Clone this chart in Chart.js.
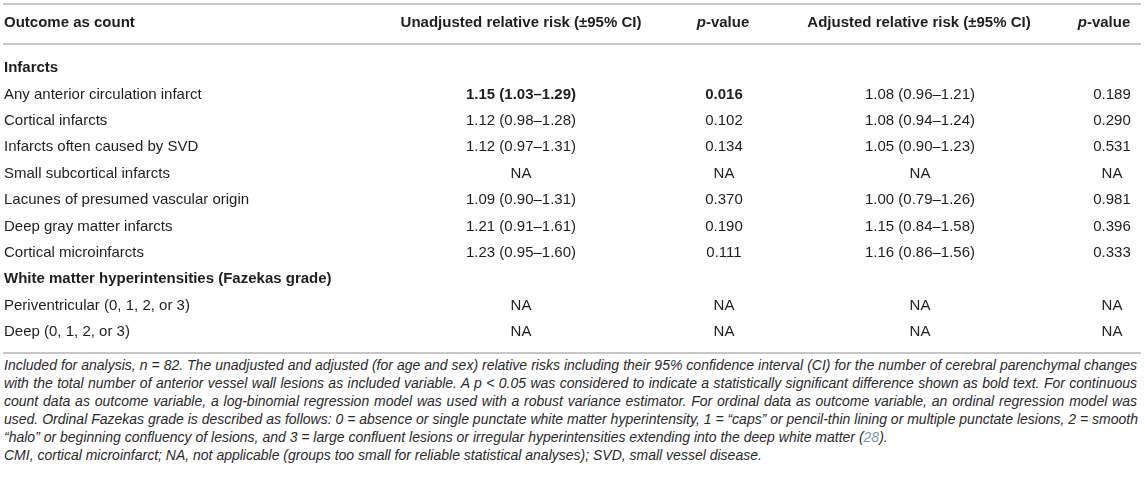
<!DOCTYPE html>
<html>
<head>
<meta charset="utf-8">
<script src="https://cdn.jsdelivr.net/npm/chart.js@4.4.1/dist/chart.umd.min.js"></script>
<style>
    html, body { margin: 0; padding: 0; background: #fff; }
    #wrap { position: relative; width: 1145px; height: 356px; }
    #note {
        font-family: "Liberation Sans", Arial, Helvetica, sans-serif;
        font-style: italic;
        font-size: 14px;
        line-height: 18px;
        color: #2a2a2a;
        width: 1133px;
        margin: 0 0 0 4px;
    }
    #note div { white-space: nowrap; }
    #note .j { text-align: justify; text-align-last: justify; }
    #note .ref { color: #7f95ad; }
</style>
</head>
<body>
<div id="wrap"><canvas id="table-chart"></canvas></div>
<div id="note">
    <div class="j">Included for analysis, <i>n</i> = 82. The unadjusted and adjusted (for age and sex) relative risks including their 95% confidence interval (CI) for the number of cerebral parenchymal changes</div>
    <div class="j">with the total number of anterior vessel wall lesions as included variable. A <i>p</i> &lt; 0.05 was considered to indicate a statistically significant difference shown as bold text. For continuous</div>
    <div class="j">count data as outcome variable, a log-binomial regression model was used with a robust variance estimator. For ordinal data as outcome variable, an ordinal regression model was</div>
    <div class="j">used. Ordinal Fazekas grade is described as follows: 0 = absence or single punctate white matter hyperintensity, 1 = “caps” or pencil-thin lining or multiple punctate lesions, 2 = smooth</div>
    <div>“halo” or beginning confluency of lesions, and 3 = large confluent lesions or irregular hyperintensities extending into the deep white matter (<span class="ref">28</span>).</div>
    <div>CMI, cortical microinfarct; NA, not applicable (groups too small for reliable statistical analyses); SVD, small vessel disease.</div>
</div>
<script>
const headers = ["Outcome as count", "Unadjusted relative risk (±95% CI)", "p-value", "Adjusted relative risk (±95% CI)", "p-value"]

const outcomes = [
    "Infarcts",
    "Any anterior circulation infarct",
    "Cortical infarcts",
    "Infarcts often caused by SVD",
    "Small subcortical infarcts",
    "Lacunes of presumed vascular origin",
    "Deep gray matter infarcts",
    "Cortical microinfarcts",
    "White matter hyperintensities (Fazekas grade)",
    "Periventricular (0, 1, 2, or 3)",
    "Deep (0, 1, 2, or 3)",
]
const sectionRows = ["Infarcts", "White matter hyperintensities (Fazekas grade)"]

const unadjustedRR = ["", "1.15 (1.03–1.29)", "1.12 (0.98–1.28)", "1.12 (0.97–1.31)", "NA", "1.09 (0.90–1.31)", "1.21 (0.91–1.61)", "1.23 (0.95–1.60)", "", "NA", "NA"]
const unadjustedP = ["", "0.016", "0.102", "0.134", "NA", "0.370", "0.190", "0.111", "", "NA", "NA"]
const adjustedRR = ["", "1.08 (0.96–1.21)", "1.08 (0.94–1.24)", "1.05 (0.90–1.23)", "NA", "1.00 (0.79–1.26)", "1.15 (0.84–1.58)", "1.16 (0.86–1.56)", "", "NA", "NA"]
const adjustedP = ["", "0.189", "0.290", "0.531", "NA", "0.981", "0.396", "0.333", "", "NA", "NA"]

// rows with p < 0.05 (shown bold)
const significantUnadjusted = ["Any anterior circulation infarct"]
const significantAdjusted = []

const FONT = '"Liberation Sans", Arial, Helvetica, sans-serif'
const SIZE = 15
const TEXT = "#1e1e1e"
const RULE = "#b4b4b4"

// column layout: x anchor on the 0..1145 scale and text alignment
const columns = [
    {values: outcomes, x: 4, align: "left", bold: o => sectionRows.includes(o)},
    {values: unadjustedRR, x: 521, align: "center", bold: o => significantUnadjusted.includes(o)},
    {values: unadjustedP, x: 724, align: "center", bold: o => significantUnadjusted.includes(o)},
    {values: adjustedRR, x: 920, align: "center", bold: o => significantAdjusted.includes(o)},
    {values: adjustedP, x: 1112, align: "center", bold: o => significantAdjusted.includes(o)},
]
const headerX = [4, 521, 723, 919, 1104]

function drawHeader(ctx, text, x, y, align) {
    // "p-value" gets an italic p
    const parts = text.startsWith("p-") ? [["p", "italic bold"], [text.slice(1), "bold"]] : [[text, "bold"]]
    let total = 0
    parts.forEach(([t, st]) => { ctx.font = `${st} ${SIZE}px ${FONT}`; total += ctx.measureText(t).width })
    let cx = align === "left" ? x : x - total / 2
    ctx.textAlign = "left"
    parts.forEach(([t, st]) => {
        ctx.font = `${st} ${SIZE}px ${FONT}`
        ctx.fillText(t, cx, y)
        cx += ctx.measureText(t).width
    })
}

const tablePlugin = {
    id: "tableText",
    afterDatasetsDraw(chart) {
        const ctx = chart.ctx
        const area = chart.chartArea
        ctx.save()
        ctx.strokeStyle = RULE
        ctx.lineWidth = 1.5
        const rules = [4, area.top - 11, area.bottom + 8]
        rules.forEach(y => {
            ctx.beginPath()
            ctx.moveTo(3, y)
            ctx.lineTo(1141, y)
            ctx.stroke()
        })

        ctx.fillStyle = TEXT
        ctx.textBaseline = "middle"
        headers.forEach((h, i) => drawHeader(ctx, h, chart.scales.x.getPixelForValue(headerX[i]), 23, columns[i].align))

        chart.data.datasets.forEach((ds, c) => {
            const meta = chart.getDatasetMeta(c)
            const col = columns[c]
            meta.data.forEach((pt, r) => {
                const txt = col.values[r]
                if (!txt) return
                ctx.font = `${col.bold(outcomes[r]) ? "bold " : ""}${SIZE}px ${FONT}`
                ctx.textAlign = col.align
                ctx.fillText(txt, pt.x, pt.y)
            })
        })
        ctx.restore()
    },
}

new Chart(document.getElementById("table-chart"), {
    type: "scatter",
    data: {
        datasets: columns.map(col => ({
            data: outcomes.map(o => ({x: col.x, y: o})),
            pointRadius: 0,
            pointHoverRadius: 0,
        })),
    },
    options: {
        responsive: true,
        maintainAspectRatio: false,
        animation: false,
        events: [],
        layout: {
            padding: {top: 55, bottom: 11, left: 0, right: 0},
        },
        plugins: {
            legend: {display: false},
            tooltip: {enabled: false},
        },
        scales: {
            x: {type: "linear", min: 0, max: 1145, display: false},
            y: {type: "category", labels: outcomes, offset: true, display: false},
        },
    },
    plugins: [tablePlugin],
})
</script>
</body>
</html>
